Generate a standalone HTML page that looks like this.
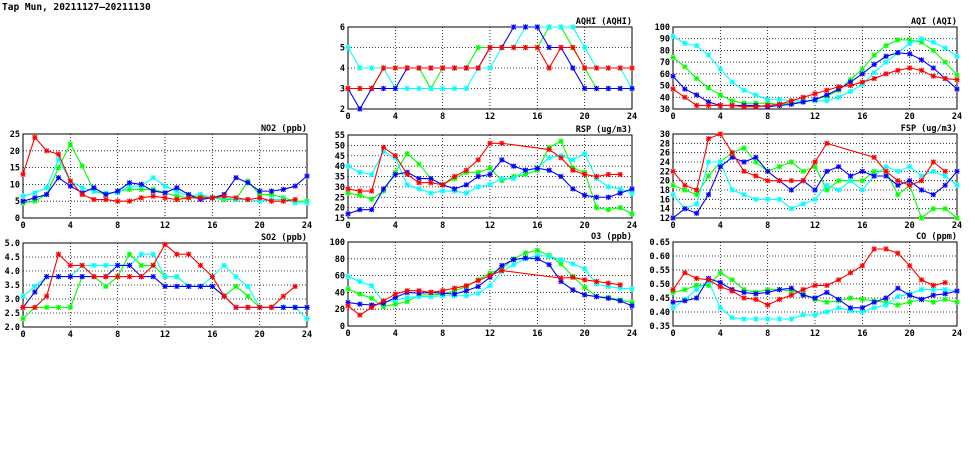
<!DOCTYPE html>
<html><head><meta charset="utf-8">
<style>
body{margin:0;background:#fff;width:975px;height:447px;overflow:hidden}
svg text{font-family:"DejaVu Sans Mono","Liberation Mono",monospace;font-weight:bold;fill:#000}
</style></head>
<body>
<svg id="chart" width="975" height="447" viewBox="0 0 975 447" xmlns="http://www.w3.org/2000/svg">
<text x="2" y="10" font-size="9.5">Tap Mun, 20211127–20211130</text>
</svg>
<script>
const hours = [0,1,2,3,4,5,6,7,8,9,10,11,12,13,14,15,16,17,18,19,20,21,22,23,24];
const xTicks = [0,4,8,12,16,20,24];
const seriesColors = ["#00ff00","#00ffff","#0000ff","#ff0000"];
const seriesNames = ["green","cyan","blue","red"];

const aqhiTitle = "AQHI (AQHI)";
const aqhiTicks = [2,3,4,5,6];
const aqhiGreen = [3,3,3,4,4,4,4,3,4,4,4,5,5,5,5,5,5,6,6,5,4,3,3,3,3];
const aqhiCyan = [5,4,4,4,3,3,3,3,3,3,3,4,4,5,5,6,6,6,6,6,5,4,4,4,3];
const aqhiBlue = [3,2,3,3,3,4,4,4,4,4,4,4,5,5,6,6,6,5,5,4,3,3,3,3,3];
const aqhiRed = [3,3,3,4,4,4,4,4,4,4,4,4,5,5,5,5,5,4,5,5,4,4,4,4,4];

const aqiTitle = "AQI (AQI)";
const aqiTicks = [30,40,50,60,70,80,90,100];
const aqiGreen = [74,66,56,48,42,37,35,35,35,34,35,36,38,41,46,55,64,76,84,89,89,87,80,70,59];
const aqiCyan = [92,86,84,76,64,53,46,42,38,38,37,37,37,37,40,45,51,61,70,78,86,90,87,82,75];
const aqiBlue = [58,47,42,36,33,33,33,33,32,33,34,36,38,42,47,53,60,68,75,78,77,72,65,56,47];
const aqiRed = [47,40,33,33,33,33,32,32,33,34,37,40,43,46,49,50,53,56,60,63,65,63,58,56,55];

const no2Title = "NO2 (ppb)";
const no2Ticks = [0,5,10,15,20,25];
const no2Green = [4.5,5,7,15,22,15.5,8,7,8,8.5,8.5,8.5,7.5,6.5,6,6.5,6,5.5,5.5,11,7,7,6,5,5];
const no2Cyan = [6.5,7.5,9,17.5,11,9,8,7.5,7.5,9.5,9.5,12,9.5,8,6.5,7,6,6,5.5,5.5,5,5.5,5.5,4.5,4.5];
const no2Blue = [5,6,7,12,9.5,7.5,9,7,8,10.5,10,8,7.5,9,7,5.5,6,7,12,10.5,8,8,8.5,9.5,12.5];
const no2Red = [13,24,20,19,11,7,5.5,5.5,5,5,6,6.5,6,5.5,6,6,6,6.5,6,5.5,6,5,5,5.5,null];

const rspTitle = "RSP (ug/m3)";
const rspTicks = [15,20,25,30,35,40,45,50,55];
const rspGreen = [27,26,24,28,37,46,41,34,31,34,37,37,39,33,35,36,38,49,52,39,37,20,19,20,17];
const rspCyan = [40,37,36,47,44,31,29,27,28,28,27,30,31,34,34,38,39,44,45,43,46,34,30,29,27];
const rspBlue = [17,19,19,29,36,37,34,34,31,29,31,35,36,43,40,38,39,38,35,29,26,25,25,27,29];
const rspRed = [29,28,28,49,45,36,32,32,31,35,38,43,51,51,null,null,null,48,44,38,36,35,36,36,null];

const fspTitle = "FSP (ug/m3)";
const fspTicks = [12,14,16,18,20,22,24,26,28,30];
const fspGreen = [19,18,17,21,24,26,27,24,22,23,24,22,23,18,20,20,20,22,22,17,19,12,14,14,12];
const fspCyan = [17,14,15,24,24,18,17,16,16,16,14,15,16,19,18,20,18,21,23,22,23,21,22,21,19];
const fspBlue = [12,14,13,17,23,25,24,25,22,20,18,20,18,22,23,21,22,21,21,19,20,18,17,19,22];
const fspRed = [22,19,18,29,30,26,22,21,20,20,20,20,24,28,null,null,null,25,22,20,19,20,24,22,null];

const so2Title = "SO2 (ppb)";
const so2Ticks = [2.0,2.5,3.0,3.5,4.0,4.5,5.0];
const so2Green = [2.3,2.7,2.7,2.7,2.7,3.8,3.8,3.45,3.8,4.6,4.2,4.2,3.8,3.8,3.45,3.45,3.45,3.1,3.45,3.1,2.7,2.7,2.7,2.7,2.7];
const so2Cyan = [3.1,3.45,3.8,3.8,3.8,4.2,4.2,4.2,4.2,4.2,4.6,4.6,3.8,3.8,3.45,3.45,3.8,4.2,3.8,3.45,2.7,2.7,2.7,2.7,2.3];
const so2Blue = [2.7,3.25,3.8,3.8,3.8,3.8,3.8,3.8,4.2,4.2,3.8,3.8,3.45,3.45,3.45,3.45,3.45,3.1,2.7,2.7,2.7,2.7,2.7,2.7,2.7];
const so2Red = [2.7,2.7,3.1,4.6,4.2,4.2,3.8,3.8,3.8,3.8,3.8,4.2,4.95,4.6,4.6,4.2,3.8,3.1,2.7,2.7,2.7,2.7,3.1,3.45,null];

const o3Title = "O3 (ppb)";
const o3Ticks = [0,20,40,60,80,100];
const o3Green = [44,38,33,23,26,29,37,37,38,42,47,55,63,68,80,87,90,84,74,59,46,35,34,31,28];
const o3Cyan = [59,53,48,28,31,34,35,35,36,36,36,39,48,65,73,80,84,83,79,74,68,50,47,45,44];
const o3Blue = [28,26,25,27,34,40,39,40,39,38,42,47,58,72,79,81,80,73,53,43,37,35,33,30,24];
const o3Red = [24,13,22,30,38,42,42,40,42,45,48,54,60,66,null,null,null,null,57,58,55,53,51,49,null];

const coTitle = "CO (ppm)";
const coTicks = [0.35,0.40,0.45,0.50,0.55,0.60,0.65];
const coGreen = [.47,.48,.495,.495,.54,.515,.48,.47,.48,.48,.475,.465,.445,.435,.44,.45,.445,.44,.435,.425,.435,.445,.435,.445,.435];
const coCyan = [.415,.445,.48,.51,.415,.38,.375,.375,.375,.375,.375,.39,.39,.40,.415,.405,.40,.415,.425,.455,.465,.48,.48,.48,.475];
const coBlue = [.435,.44,.45,.52,.505,.48,.47,.465,.47,.48,.485,.46,.45,.47,.445,.415,.415,.435,.45,.485,.46,.445,.46,.465,.475];
const coRed = [.48,.54,.52,.515,.49,.475,.45,.445,.425,.445,.46,.48,.495,.495,.515,.54,.565,.625,.625,.61,.565,.515,.495,.505,null];

const NS = "http://www.w3.org/2000/svg";
const svg = document.getElementById("chart");
function mk(tag, attrs, parent){const e=document.createElementNS(NS,tag);for(const k in attrs)e.setAttribute(k,attrs[k]);(parent||svg).appendChild(e);return e;}

function panel(key,title,ticks,series,box,dec){
  const g=mk("g",{});
  
  
  const [x0,y0,x1,y1]=box;
  const lo=ticks[0],hi=ticks[ticks.length-1];
  const sx=v=>x0+(v-0)/(24)*(x1-x0);
  const sy=v=>y1-(v-lo)/(hi-lo)*(y1-y0);
  for(const t of xTicks){
    if(t>0&&t<24){const l=mk("line",{x1:sx(t),x2:sx(t),y1:y0,y2:y1,stroke:"#000","stroke-width":0.8,"stroke-dasharray":"1,2"},g);
      
      }
    const tx=mk("text",{x:sx(t),y:y1+10,"font-size":8.5,"text-anchor":"middle"},g);
    
    
    tx.textContent=t;
  }
  for(const t of ticks){
    if(t>lo&&t<hi){const l=mk("line",{x1:x0,x2:x1,y1:sy(t),y2:sy(t),stroke:"#000","stroke-width":0.8,"stroke-dasharray":"1,2"},g);
      
      }
    const tx=mk("text",{x:x0-3,y:sy(t)+3,"font-size":8.5,"text-anchor":"end"},g);
    
    
    tx.textContent=t.toFixed(dec);
  }
  const fr=mk("rect",{x:x0,y:y0,width:x1-x0,height:y1-y0,fill:"none",stroke:"#000","stroke-width":1},g);
  
  
  const tt=mk("text",{x:x1,y:y0-3,"font-size":8.5,"text-anchor":"end"},g);
  
  
  tt.textContent=title;
  series.forEach((vals,i)=>{
    const col=seriesColors[i];
    const pts=[];
    vals.forEach((v,j)=>{if(v!==null)pts.push([sx(hours[j]),sy(v)]);});
    const pl=mk("polyline",{points:pts.map(p=>p.join(",")).join(" "),fill:"none",stroke:col,"stroke-width":1.1},g);
    
    
    for(const [px,py] of pts){
      const m=mk("path",{d:`M${px-2.2},${py-2.2}L${px+2.2},${py+2.2}M${px-2.2},${py+2.2}L${px+2.2},${py-2.2}M${px},${py-2.6}L${px},${py+2.6}M${px-2.6},${py}L${px+2.6},${py}`,stroke:col,"stroke-width":1.1,fill:"none"},g);
      
      
    }
  });
}
panel("aqhi",aqhiTitle,aqhiTicks,[aqhiGreen,aqhiCyan,aqhiBlue,aqhiRed],[348,27,632,109],0);
panel("aqi",aqiTitle,aqiTicks,[aqiGreen,aqiCyan,aqiBlue,aqiRed],[673,27,957,109],0);
panel("no2",no2Title,no2Ticks,[no2Green,no2Cyan,no2Blue,no2Red],[23,134,307,218],0);
panel("rsp",rspTitle,rspTicks,[rspGreen,rspCyan,rspBlue,rspRed],[348,135,632,218],0);
panel("fsp",fspTitle,fspTicks,[fspGreen,fspCyan,fspBlue,fspRed],[673,134,957,218],0);
panel("so2",so2Title,so2Ticks,[so2Green,so2Cyan,so2Blue,so2Red],[23,243,307,327],1);
panel("o3",o3Title,o3Ticks,[o3Green,o3Cyan,o3Blue,o3Red],[348,242,632,326],0);
panel("co",coTitle,coTicks,[coGreen,coCyan,coBlue,coRed],[673,242,957,326],2);
</script>
</body></html>
